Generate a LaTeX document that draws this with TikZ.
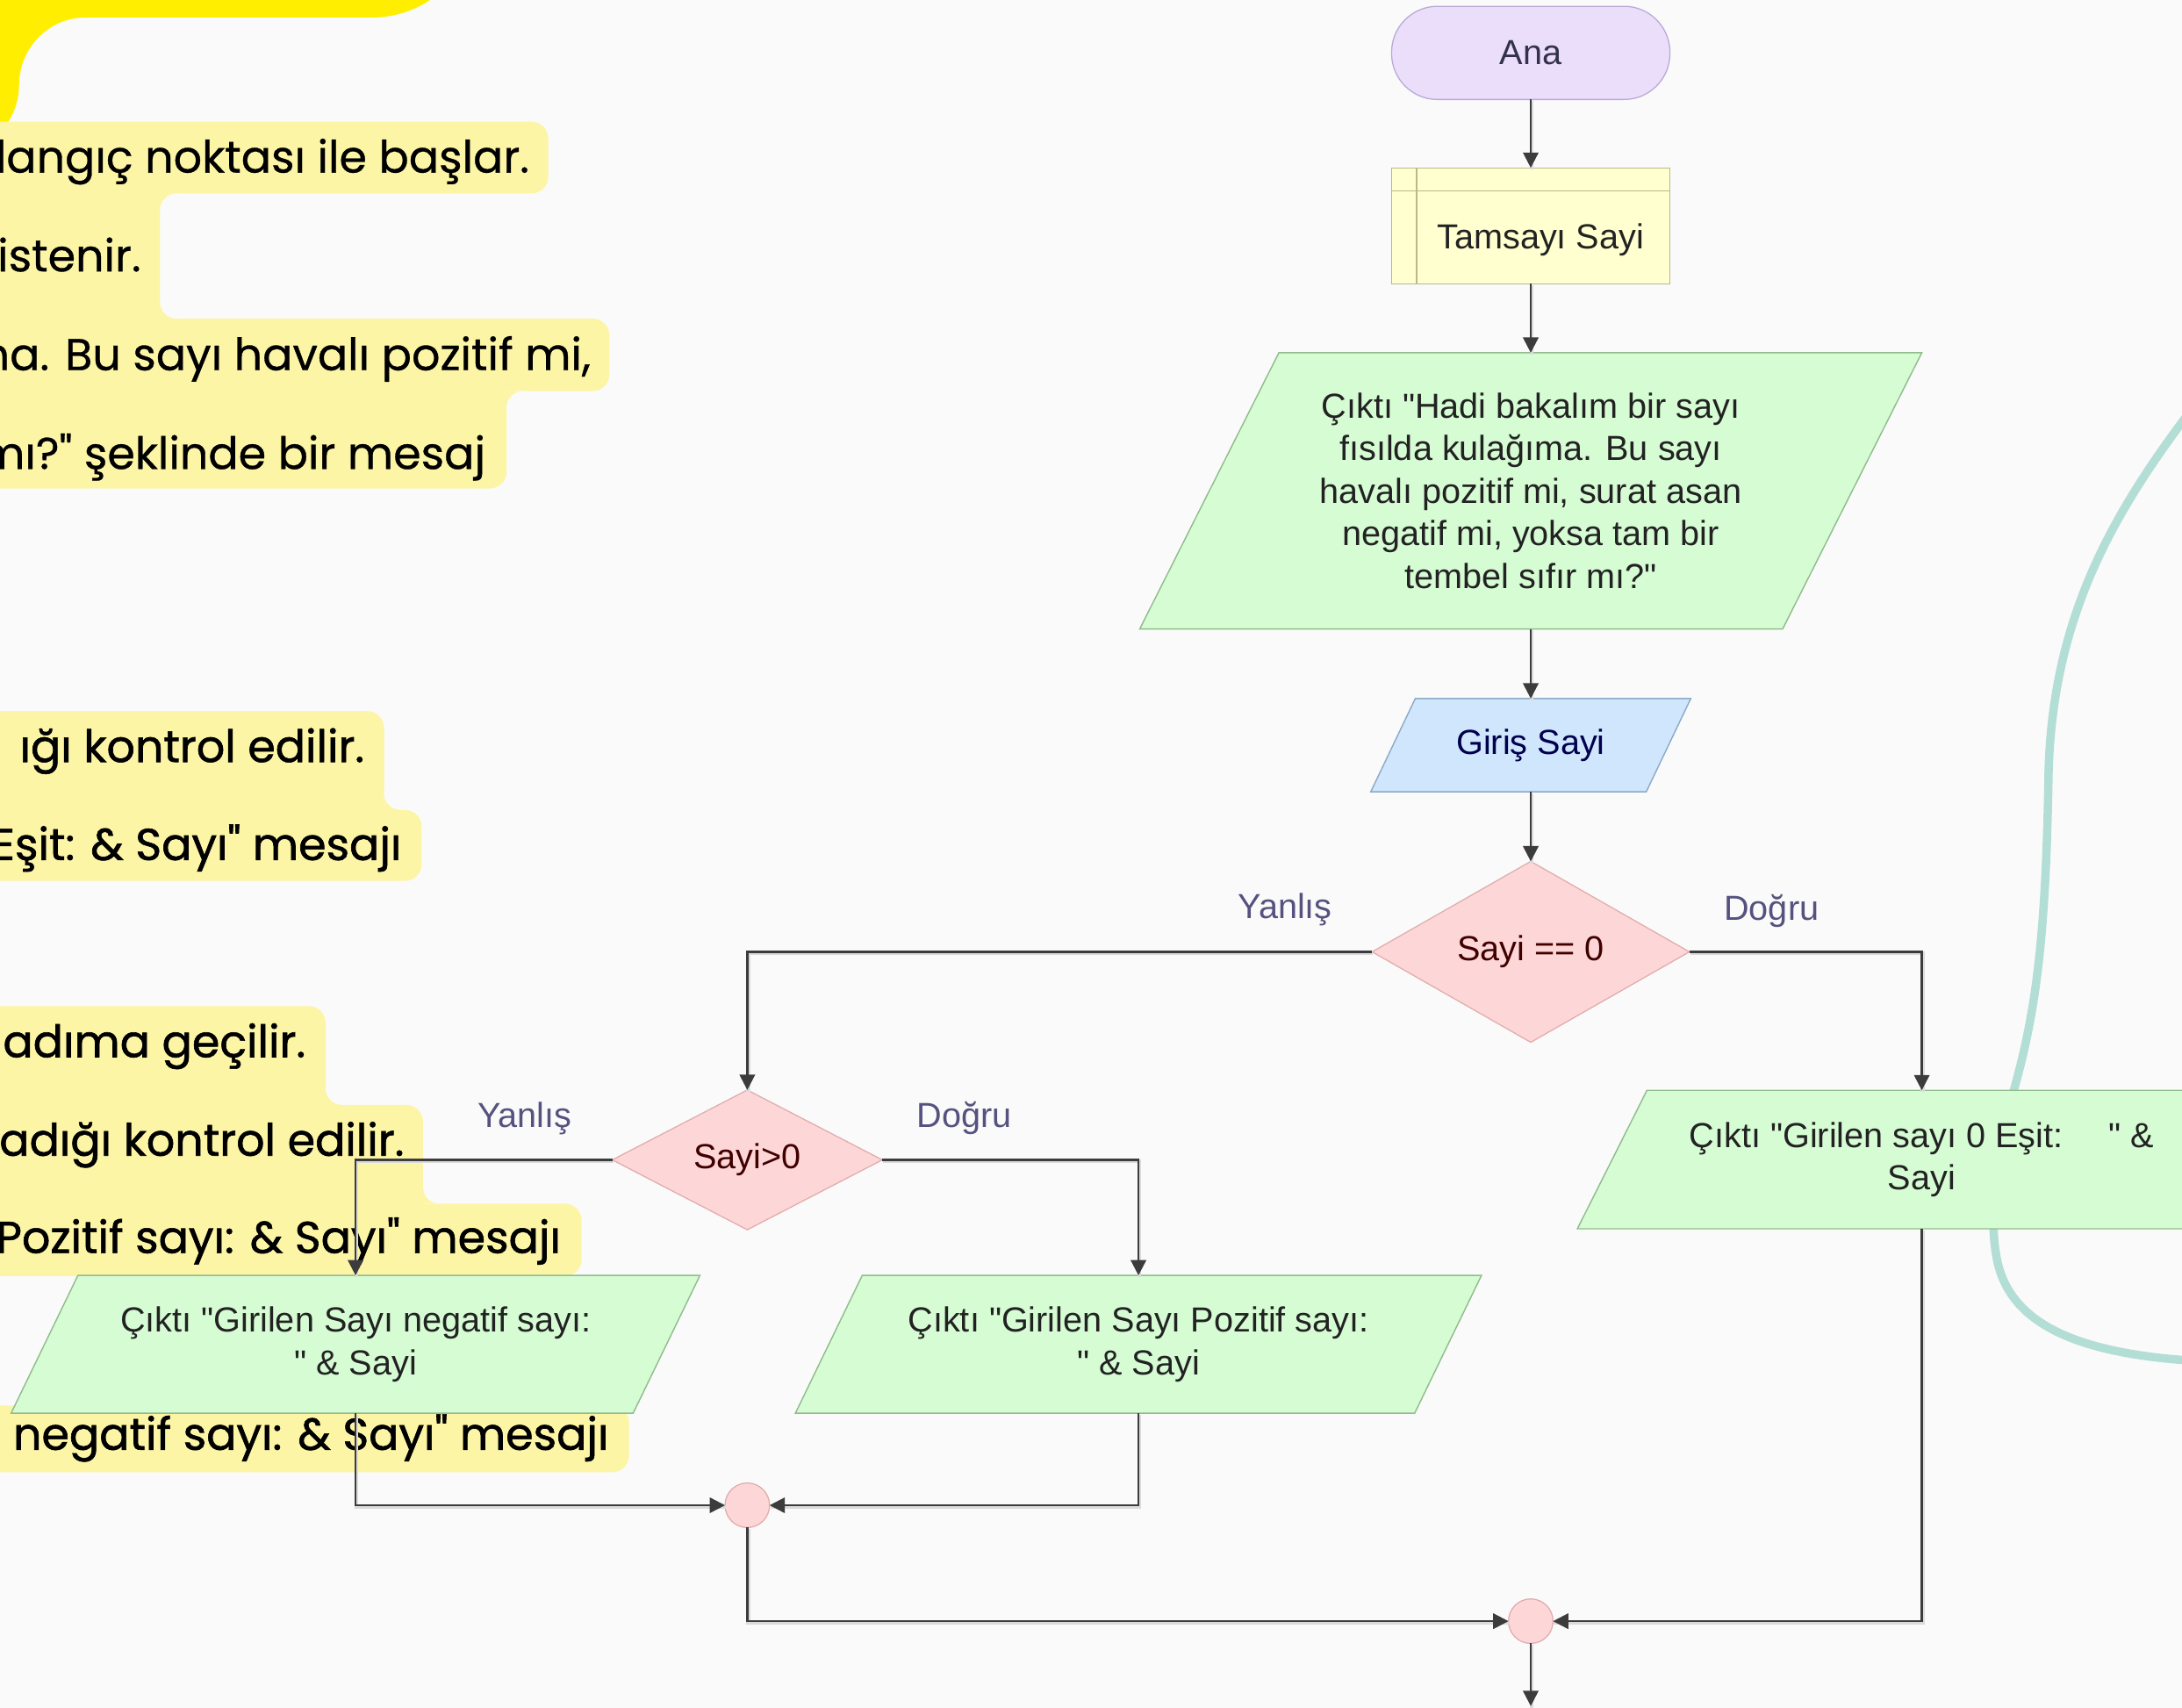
\documentclass[tikz,border=0pt]{standalone}
\usepackage{fontspec}
\setmainfont{Liberation Sans}[Ligatures=TeXOff]
\newfontfamily\hlfont{Poppins}[FakeBold=0.6,Ligatures=TeXOff]
\newfontfamily\hlfontb{Poppins}[FakeBold=1.2,Ligatures=TeXOff]
\usetikzlibrary{shapes.geometric,arrows.meta,calc}
\definecolor{bgc}{HTML}{FAFAFA}
\definecolor{yel}{HTML}{FFEE00}
\definecolor{hl}{HTML}{FDF5A6}
\definecolor{teal1}{HTML}{B3DED6}
\definecolor{lav}{HTML}{EADEFB}
\definecolor{lavd}{HTML}{B9A9D6}
\definecolor{cre}{HTML}{FFFFCF}
\definecolor{cred}{HTML}{B8B88A}
\definecolor{grn}{HTML}{D6FCD4}
\definecolor{grnd}{HTML}{90BC8C}
\definecolor{blu}{HTML}{CFE6FC}
\definecolor{blud}{HTML}{8CAAC9}
\definecolor{pnk}{HTML}{FDD7D7}
\definecolor{pnkd}{HTML}{E2ABAB}
\definecolor{lnc}{HTML}{3C3C3C}
\definecolor{lbl}{HTML}{56527F}
\definecolor{txt}{HTML}{222222}
\pgfdeclarelayer{back}
\pgfdeclarelayer{shapes}
\pgfsetlayers{back,shapes,main}
\tikzset{
  fc/.style={font=\fontsize{25}{30.6}\selectfont, text=txt, inner sep=0pt, outer sep=0pt, align=center},
  anabox/.style={fc, draw=lavd, fill=lav, line width=0.8pt, rounded corners=33pt, minimum width=200pt, minimum height=67pt},
  tambox/.style={fc, draw=cred, fill=cre, line width=0.8pt, minimum width=200pt, minimum height=83.4pt},
  parabox/.style={fc},
  decbox/.style={fc, diamond, draw=pnkd, fill=pnk, line width=0.8pt},
  mergebox/.style={circle, draw=pnkd, fill=pnk, line width=0.8pt, minimum size=32pt, inner sep=0pt, outer sep=0pt},
  lblst/.style={font=\fontsize{25}{30}\selectfont, text=lbl, inner sep=0pt},
  hlA/.style={font=\hlfont\fontsize{32}{40}\selectfont, text=black, inner sep=0pt, anchor=base east},
  hlB/.style={font=\hlfontb\fontsize{32}{40}\selectfont, text=black, inner sep=0pt, anchor=base east},
  shadowl/.style={line width=2.8pt, draw=black!14, transform canvas={xshift=0.6pt,yshift=-1.1pt}},
  flowl/.style={line width=1.5pt, draw=lnc, -{Triangle[length=11pt,width=11pt]}},
}
\newcommand\parashape[4]{\begin{pgfonlayer}{shapes}\draw[draw=#4,fill=#3,line width=0.9pt] ([xshift=#2pt]#1.north west) -- (#1.north east) -- ([xshift=-#2pt]#1.south east) -- (#1.south west) -- cycle;\end{pgfonlayer}}
\newcommand\conn[1]{\draw[shadowl] #1; \draw[flowl] #1;}
\begin{document}
\begin{tikzpicture}[x=1pt,y=-1pt]
\useasboundingbox (0,0) rectangle (1568,1227);
\begin{pgfonlayer}{back}
\fill[bgc] (-10,-10) rectangle (1580,1240);
\fill[yel] (-5,-5) -- (312,-5) -- (309,0) .. controls (296.5,8.3) and (282,12.6) .. (267,12.6) -- (61,12.6) .. controls (34.8,12.6) and (13.7,34.8) .. (13.7,61) .. controls (13.7,73.7) and (8.8,85.9) .. (0,95) -- (-5,95) -- cycle;
% highlight boxes
\fill[hl, rounded corners=12pt] (-20,87.5) rectangle (394,139);
\fill[hl, rounded corners=12pt] (-20,127) rectangle (115,241);
\fill[hl, rounded corners=12pt] (-20,229) rectangle (438,281);
\fill[hl, rounded corners=12pt] (-20,269) rectangle (364,351);
\fill[hl, rounded corners=12pt] (-20,511) rectangle (276,594);
\fill[hl, rounded corners=12pt] (-20,582) rectangle (303,633);
\fill[hl, rounded corners=12pt] (-20,723) rectangle (234,806);
\fill[hl, rounded corners=12pt] (-20,794) rectangle (304,877);
\fill[hl, rounded corners=12pt] (-20,865) rectangle (418,917);
\fill[hl, rounded corners=12pt] (-20,1010) rectangle (452,1058);
% concave fillets
\fill[hl] (115,139) rectangle (127,151); \fill[bgc] (127,151) circle (12pt);
\fill[hl] (115,217) rectangle (127,229); \fill[bgc] (127,217) circle (12pt);
\fill[hl] (364,281) rectangle (376,293); \fill[bgc] (376,293) circle (12pt);
\fill[hl] (276,570) rectangle (288,582); \fill[bgc] (288,570) circle (12pt);
\fill[hl] (234,782) rectangle (246,794); \fill[bgc] (246,782) circle (12pt);
\fill[hl] (304,853) rectangle (316,865); \fill[bgc] (316,853) circle (12pt);
% highlight texts
\node[hlA] (t1) at (380.5,124) {langıç noktası ile başlar.};
\node[hlA] (t2) at (101.5,195) {istenir.};
\node[hlA] (t3) at (424.7,266) {ma. Bu sayı havalı pozitif mi,};
\node[hlA] (t4) at (349,337) {mı?" şeklinde bir mesaj};
\node[hlB] (t5) at (262,547.6) {ığı kontrol edilir.};
\node[hlB] (t6) at (288.7,618) {Eşit: \& Sayı" mesajı};
\node[hlB] (t7) at (219.8,759.7) {adıma geçilir.};
\node[hlB] (t8) at (290.6,830.5) {adığı kontrol edilir.};
\node[hlB] (t9) at (403.2,900.4) {Pozitif sayı: \& Sayı" mesajı};
\node[hlB] (t10) at (437.6,1041.8) {ı negatif sayı: \& Sayı" mesajı};
% teal curve
\draw[teal1, line width=6pt] (1600,262) .. controls (1530,350) and (1474,430) .. (1472,560) .. controls (1470,680) and (1462,730) .. (1447,784) .. controls (1436,820) and (1428,870) .. (1435,905) .. controls (1445,955) and (1500,976) .. (1600,979);
\end{pgfonlayer}
% nodes
\node[anabox, text=lbl!60!black] (ana) at (1100,38) {Ana};
\node[tambox, label={[fc,xshift=7pt,yshift=-10pt]center:Tamsayı Sayi}] (tam) at (1100,162.3) {};
\draw[cred, line width=0.8pt] ($(tam.north west)+(18,0)$) -- ($(tam.south west)+(18,0)$);
\draw[cred, line width=0.8pt] ($(tam.north west)+(0,16.7)$) -- ($(tam.north east)+(0,16.7)$);
\node[parabox, minimum width=562pt, minimum height=198.5pt] (out1) at (1100,352.75) {Çıktı "Hadi bakalım bir sayı\\fısılda kulağıma. Bu sayı\\havalı pozitif mi, surat asan\\negatif mi, yoksa tam bir\\tembel sıfır mı?"};
\parashape{out1}{100}{grn}{grnd}
\node[parabox, minimum width=230pt, minimum height=67pt, text=blue!30!black] (giris) at (1100,535.5) {Giriş Sayi};
\parashape{giris}{32}{blu}{blud}
\node[decbox, minimum width=228pt, minimum height=130pt, text=red!25!black] (dec1) at (1100,684) {Sayi == 0};
\node[decbox, minimum width=194pt, minimum height=97pt, text=red!25!black] (dec2) at (537,833.5) {Sayi>0};
\node[parabox, minimum width=495pt, minimum height=99pt] (outneg) at (255.5,966) {Çıktı "Girilen Sayı negatif sayı:\\" \& Sayi};
\parashape{outneg}{48}{grn}{grnd}
\node[parabox, minimum width=493pt, minimum height=99pt] (outpos) at (818.1,966) {Çıktı "Girilen Sayı Pozitif sayı:\\" \& Sayi};
\parashape{outpos}{48}{grn}{grnd}
\node[parabox, minimum width=495pt, minimum height=99.5pt] (out0) at (1381,833.25) {Çıktı "Girilen sayı 0 Eşit:\hspace{33pt}" \&\\Sayi};
\parashape{out0}{50}{grn}{grnd}
\node[mergebox] (m1) at (537,1081.7) {};
\node[mergebox] (m2) at (1100,1165) {};
\coordinate (endc) at (1100,1226);
% connectors
\conn{(ana) -- (tam)}
\conn{(tam) -- (out1)}
\conn{(out1) -- (giris)}
\conn{(giris) -- (dec1)}
\conn{(dec1.west) -| (dec2.north)}
\conn{(dec1.east) -| (out0.north)}
\conn{(dec2.west) -| (outneg.north)}
\conn{(dec2.east) -| (outpos.north)}
\conn{(outneg.south) |- (m1.west)}
\conn{(outpos.south) |- (m1.east)}
\conn{(m1.south) |- (m2.west)}
\conn{(out0.south) |- (m2.east)}
\conn{(m2.south) -- (endc)}
% labels
\node[lblst, anchor=base] (l1) at (923.5,660) {Yanlış};
\node[lblst, anchor=base] (l2) at (1273,661) {Doğru};
\node[lblst, anchor=base] (l3) at (377,810) {Yanlış};
\node[lblst, anchor=base] (l4) at (693,810) {Doğru};
\end{tikzpicture}
\end{document}
